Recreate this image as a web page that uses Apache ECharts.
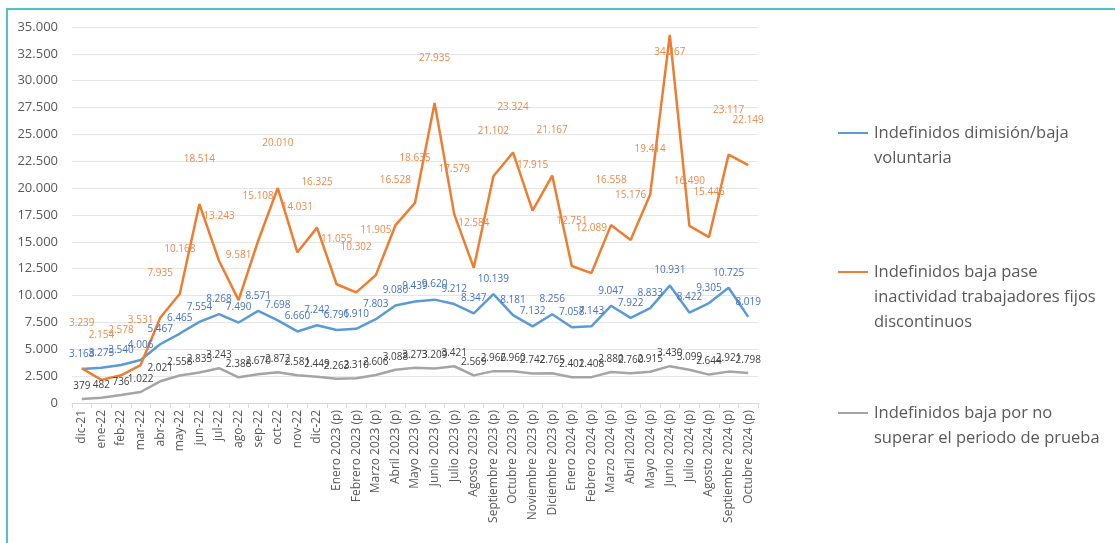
<!DOCTYPE html>
<html>
<head>
<meta charset="utf-8">
<script src="https://cdn.jsdelivr.net/npm/echarts@6/dist/echarts.min.js"></script>
<style>
html, body { margin: 0; padding: 0; background: #fff; }
#frame {
  position: absolute;
  left: 6px; top: 8px;
  width: 1120px; height: 550px;
  border-left: 2px solid #4fc3c6;
  border-top: 2px solid #4fc3c6;
}
#chart { position: absolute; left: 0; top: 0; width: 1115px; height: 543px; }
</style>
</head>
<body>
<div id="frame"></div>
<div id="chart"></div>
<script>
const categories = [
  'dic-21', 'ene-22', 'feb-22', 'mar-22', 'abr-22', 'may-22', 'jun-22', 'jul-22',
  'ago-22', 'sep-22', 'oct-22', 'nov-22', 'dic-22',
  'Enero 2023 (p)', 'Febrero 2023 (p)', 'Marzo 2023 (p)', 'Abril 2023 (p)',
  'Mayo 2023 (p)', 'Junio 2023 (p)', 'Julio 2023 (p)', 'Agosto 2023 (p)',
  'Septiembre 2023 (p)', 'Octubre 2023 (p)', 'Noviembre 2023 (p)', 'Diciembre 2023 (p)',
  'Enero 2024 (p)', 'Febrero 2024 (p)', 'Marzo 2024 (p)', 'Abril 2024 (p)',
  'Mayo 2024 (p)', 'Junio 2024 (p)', 'Julio 2024 (p)', 'Agosto 2024 (p)',
  'Septiembre 2024 (p)', 'Octubre 2024 (p)'
];

// series names (legend wraps them over several lines)
const nameDimision = 'Indefinidos dimisión/baja\nvoluntaria';
const nameInactividad = 'Indefinidos baja pase\ninactividad trabajadores fijos\ndiscontinuos';
const namePrueba = 'Indefinidos baja por no\nsuperar el periodo de prueba';

const dimision = [
  3168, 3275, 3540, 4006, 5467, 6465, 7554, 8268, 7490, 8571, 7698, 6660, 7242,
  6791, 6910, 7803, 9080, 9439, 9620, 9212, 8347, 10139, 8181, 7132, 8256,
  7058, 7143, 9047, 7922, 8833, 10931, 8422, 9305, 10725, 8019
];
const inactividad = [
  3239, 2154, 2578, 3531, 7935, 10168, 18514, 13243, 9581, 15108, 20010, 14031, 16325,
  11055, 10302, 11905, 16528, 18635, 27935, 17579, 12584, 21102, 23324, 17915, 21167,
  12751, 12089, 16558, 15176, 19414, 34267, 16490, 15446, 23117, 22149
];
const prueba = [
  379, 482, 736, 1022, 2021, 2558, 2835, 3243, 2388, 2670, 2872, 2581, 2449,
  2263, 2310, 2606, 3088, 3273, 3209, 3421, 2569, 2966, 2960, 2742, 2765,
  2401, 2408, 2880, 2760, 2915, 3430, 3099, 2644, 2921, 2798
];

const yTicks = { min: 0, max: 35000, interval: 2500 };

function fmt(v) {
  return String(v).replace(/\B(?=(\d{3})+(?!\d))/g, '.');
}

const font = '"Open Sans", "Liberation Sans", sans-serif';
const chart = echarts.init(document.getElementById('chart'));

// the icon sits on the first text line: pad with empty lines above
function legendFor(name, firstLineY) {
  const lines = name.split('\n').length;
  return {
    top: firstLineY - (lines - 1) * 25 - 12.5,
    left: 838,
    padding: 0,
    orient: 'vertical',
    icon: 'path://M0,0 L30,0 L30,2 L0,2 Z',
    itemWidth: 32,
    itemHeight: 2,
    itemGap: 0,
    selectedMode: false,
    data: [name],
    formatter: n => '\n'.repeat(lines - 1) + n,
    textStyle: {
      fontFamily: font,
      fontSize: 16.5,
      lineHeight: 25,
      color: '#595959'
    }
  };
}

function lineSeries(name, data, color, labelColor, dist) {
  return {
    name: name,
    type: 'line',
    data: data,
    symbol: 'circle',
    symbolSize: 0,
    lineStyle: { width: 2.5, color: color },
    itemStyle: { color: color },
    label: {
      show: true,
      position: 'top',
      distance: dist,
      fontFamily: font,
      fontSize: 10,
      color: labelColor,
      formatter: p => fmt(p.value)
    },
    // a label that would leave the plot is pulled back inside it
    labelLayout: function (params) {
      if (params.rect.y - dist < 45) {
        return { dy: 50 - (params.rect.y - dist - 7) };
      }
    }
  };
}

const option = {
  animation: false,
  backgroundColor: 'transparent',
  grid: { left: 72, right: 357, top: 27, bottom: 140 },
  legend: [
    legendFor(nameDimision, 133),
    legendFor(nameInactividad, 272),
    legendFor(namePrueba, 413)
  ],
  xAxis: {
    type: 'category',
    data: categories,
    boundaryGap: true,
    axisLine: { lineStyle: { color: '#d9d9d9' } },
    axisTick: { show: true, length: 5, lineStyle: { color: '#d9d9d9' } },
    axisLabel: {
      interval: 0,
      rotate: 90,
      fontFamily: font,
      fontSize: 12,
      color: '#595959',
      margin: 7
    }
  },
  yAxis: {
    type: 'value',
    min: yTicks.min,
    max: yTicks.max,
    interval: yTicks.interval,
    axisLine: { show: false },
    axisTick: { show: false },
    splitLine: { lineStyle: { color: '#e6e6e6' } },
    axisLabel: {
      fontFamily: font,
      fontSize: 13,
      color: '#595959',
      margin: 14,
      formatter: v => fmt(v)
    }
  },
  series: [
    lineSeries(nameDimision, dimision, '#5b9bd5', '#4472c4', 10),
    lineSeries(nameInactividad, inactividad, '#ed7d31', '#ec8a4a', 40),
    lineSeries(namePrueba, prueba, '#a5a5a5', '#404040', 8)
  ]
};

chart.setOption(option);
</script>
</body>
</html>
